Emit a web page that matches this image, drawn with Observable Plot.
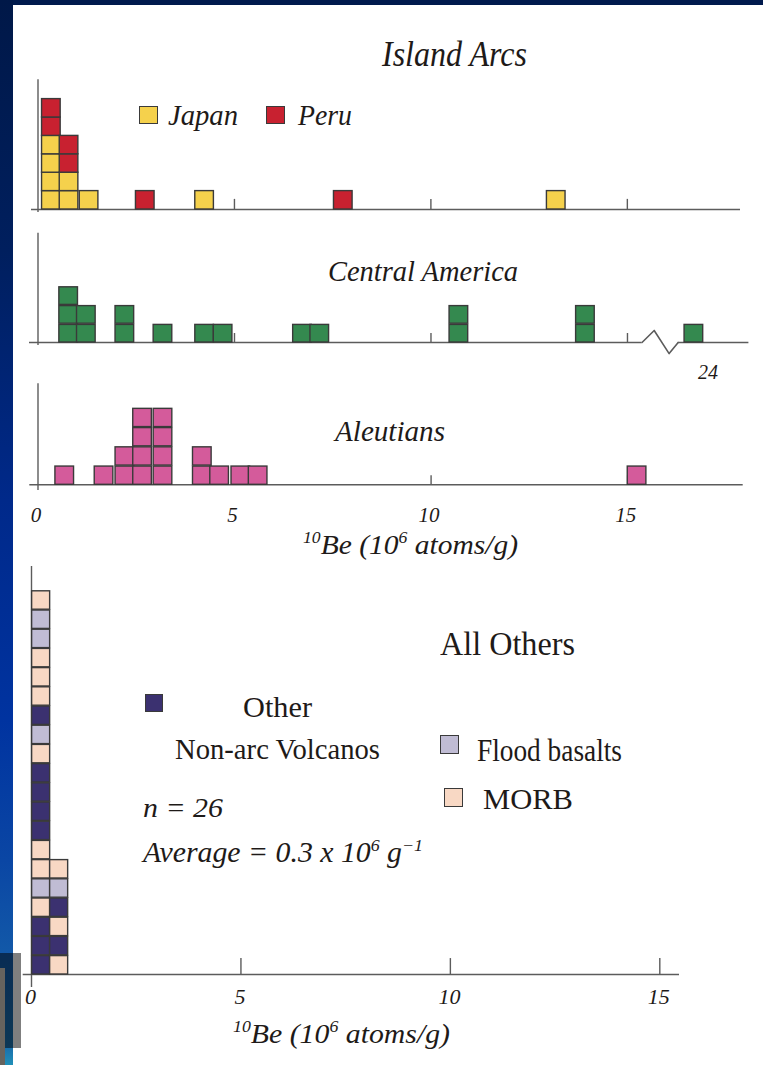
<!DOCTYPE html>
<html><head><meta charset="utf-8">
<script src="https://cdn.jsdelivr.net/npm/d3@7"></script>
<script src="https://cdn.jsdelivr.net/npm/@observablehq/plot@0.6"></script>
<style>
body{margin:0;background:#001a4d;}
#page{position:relative;width:763px;height:1065px;overflow:hidden;background:#001a4d;}
#strip{position:absolute;left:0;top:0;width:13px;height:1065px;
 background:linear-gradient(to bottom,#001848 0px,#001f5e 250px,#00298a 500px,#0033a0 720px,#0a46a4 860px,#1258a8 950px,#1a70ac 1048px,#2090b8 1065px);}
#panel{position:absolute;left:13px;top:5px;width:750px;height:1060px;background:#fff;}
.plotwrap{position:absolute;left:0;}
.lbl{position:absolute;white-space:nowrap;transform-origin:0 0;color:#1e1a18;font-family:'Liberation Serif',serif;line-height:1;}
.lbl .s{font-size:.6em;position:relative;top:-.6em;}
.sw{position:absolute;box-sizing:border-box;border:1.5px solid #3a3a3a;}
</style></head>
<body><div id="page"><div id="strip"></div><div id="panel"></div></div>
<script>
// ---------------- data ----------------
const tickValues = [0, 5, 10, 15];

const islandGroups = ["Japan", "Peru"];
const islandColors = ["#F5D14C", "#C82130"];
const japanBe = [0.34, 0.34, 0.34, 0.34, 0.79, 0.79, 1.30, 4.24, 13.19];
const peruBe = [0.34, 0.34, 0.79, 0.79, 2.73, 7.77];

const centralAmericaColor = "#34894F";
const centralAmericaBe = [0.78, 0.78, 0.78, 1.23, 1.23, 2.21, 2.21, 3.18, 4.24, 4.71, 6.73, 7.17, 10.71, 10.71, 13.93, 13.93, 24];
const centralAmericaOutlierTicks = [24];

const aleutiansColor = "#D45B9B";
const aleutiansBe = [0.68, 1.68, 2.21, 2.21, 2.66, 2.66, 2.66, 2.66, 3.18, 3.18, 3.18, 3.18, 4.18, 4.18, 4.62, 5.16, 5.60, 15.24];

const otherGroups = ["Other", "Flood basalts", "MORB"];
const otherColors = ["#3B3170", "#C0BCD4", "#F8D8C4"];
// stacking order: first column bottom -> top, then second column bottom -> top
const othersBe = [0.23,0.23,0.23,0.23,0.23,0.23,0.23,0.23,0.23,0.23,0.23,0.23,0.23,0.23,0.23,0.23,0.23,0.23,0.23,0.23,
                  0.66,0.66,0.66,0.66,0.66,0.66];
const othersType = ["Other","Other","Other","MORB","Flood basalts","MORB","MORB","Other","Other","Other",
                    "Other","MORB","Flood basalts","Other","MORB","MORB","MORB","Flood basalts","Flood basalts","MORB",
                    "MORB","Other","MORB","Other","Flood basalts","MORB"];

// ---------------- build ----------------
const islandData = [
  ...japanBe.map(be => ({be, group: "Japan"})),
  ...peruBe.map(be => ({be, group: "Peru"}))
];
const caData = centralAmericaBe.map(be => ({be}));
const alData = aleutiansBe.map(be => ({be}));
const othersData = othersBe.map((be, i) => ({be, group: othersType[i]}));

const axisStroke = "#5c5c5c";
const sqStroke = "#3a3a3a";
const page = document.getElementById("page");
const baseStyle = {background: "transparent", fontFamily: "'Liberation Serif', serif", fontStyle: "italic", color: "#1e1a18", overflow: "visible"};

function place(svg, top) {
  const w = document.createElement("div");
  w.className = "plotwrap";
  w.style.top = top + "px";
  w.appendChild(svg);
  page.appendChild(w);
}

const hwTop = 0.237; // half square width in data units (top panels)

// Panel 1: Island Arcs
place(Plot.plot({
  width: 763, height: 220, marginLeft: 37.5, marginRight: 23, marginTop: 80.2, marginBottom: 11,
  x: {domain: [0, 17.88], axis: null},
  y: {domain: [0, 7], axis: null},
  color: {domain: islandGroups, range: islandColors},
  style: baseStyle,
  marks: [
    Plot.ruleY([0], {insetLeft: -6.5, stroke: axisStroke, strokeWidth: 1.6}),
    Plot.ruleX([0], {insetTop: -1, insetBottom: -3, stroke: axisStroke, strokeWidth: 1.4}),
    Plot.ruleX(tickValues.slice(1), {y1: 0, y2: 0.55, stroke: axisStroke, strokeWidth: 1.4}),
    Plot.rectY(islandData, {x1: d => d.be - hwTop, x2: d => d.be + hwTop, y: 1, fill: "group", stroke: sqStroke, strokeWidth: 1.4})
  ]
}), 0);

// Panel 2: Central America (broken axis: values between caCutFrom and caCutTo are cut out)
const caCutFrom = 16.29, caCutTo = 23.6;
const caBreakStart = 15.37;
const caAxisEnd = 25.4;
const caTransform = v => v >= caCutTo ? v - (caCutTo - caCutFrom) : v;
const zig = [
  {x: caBreakStart, y: 0}, {x: caBreakStart + 0.31, y: 0.64},
  {x: caBreakStart + 0.69, y: -0.59}, {x: caCutTo, y: 0}
];
place(Plot.plot({
  width: 763, height: 160, marginLeft: 37.5, marginRight: 14.6, marginTop: 9.2, marginBottom: 38,
  x: {transform: caTransform, domain: [0, caTransform(caAxisEnd)], axis: null},
  y: {domain: [0, 6], axis: null},
  style: baseStyle,
  marks: [
    Plot.ruleY([0], {x1: 0, x2: caBreakStart, insetLeft: -8.5, stroke: axisStroke, strokeWidth: 1.6}),
    Plot.ruleY([0], {x1: caCutTo, x2: caAxisEnd, stroke: axisStroke, strokeWidth: 1.6}),
    Plot.line(zig, {x: "x", y: "y", stroke: axisStroke, strokeWidth: 1.6}),
    Plot.ruleX([0], {insetTop: 3.5, insetBottom: -3, stroke: axisStroke, strokeWidth: 1.4}),
    Plot.ruleX(tickValues.slice(1), {y1: 0, y2: 0.48, stroke: axisStroke, strokeWidth: 1.4}),
    Plot.rectY(caData, {x1: d => d.be - hwTop, x2: d => d.be + hwTop, y: 1, fill: centralAmericaColor, stroke: sqStroke, strokeWidth: 1.4, insetTop: 1.2}),
    Plot.text(centralAmericaOutlierTicks, {x: d => d, text: d => String(d), frameAnchor: "bottom", lineAnchor: "top", dy: 22, dx: 14, fontSize: 20, fill: "#1e1a18"})
  ]
}), 220);

// Panel 3: Aleutians
place(Plot.plot({
  width: 763, height: 200, marginLeft: 37.5, marginRight: 20.3, marginTop: 13.3, marginBottom: 85.7,
  x: {domain: [0, 17.94], axis: null},
  y: {domain: [0, 5.25], axis: null},
  style: baseStyle,
  marks: [
    Plot.ruleY([0], {insetLeft: -8.2, stroke: axisStroke, strokeWidth: 1.6}),
    Plot.ruleX([0], {insetBottom: -5.7, stroke: axisStroke, strokeWidth: 1.4}),
    Plot.ruleX(tickValues.slice(1), {y1: 0, y2: 0.47, stroke: axisStroke, strokeWidth: 1.4}),
    Plot.rectY(alData, {x1: d => d.be - hwTop, x2: d => d.be + hwTop, y: 1, fill: aleutiansColor, stroke: sqStroke, strokeWidth: 1.4, insetTop: 1}),
    Plot.axisX({ticks: tickValues, tickSize: 0, tickPadding: 22, fontSize: 21, dx: -2, label: null})
  ]
}), 370);

// Panel 4: All Others
const hwBottom = 0.215;
place(Plot.plot({
  width: 763, height: 470, marginLeft: 31, marginRight: 84, marginTop: 6, marginBottom: 56,
  x: {domain: [0, 15.47], axis: null},
  y: {domain: [0, 21.25], axis: null},
  color: {domain: otherGroups, range: otherColors},
  style: baseStyle,
  marks: [
    Plot.ruleY([0], {insetLeft: -8.3, stroke: axisStroke, strokeWidth: 1.6}),
    Plot.ruleX([0], {insetBottom: -13, stroke: axisStroke, strokeWidth: 1.4}),
    Plot.ruleX(tickValues.slice(1), {y1: 0, y2: 0.83, stroke: axisStroke, strokeWidth: 1.4}),
    Plot.rectY(othersData, {x1: d => d.be - hwBottom, x2: d => d.be + hwBottom, y: 1, fill: "group", stroke: sqStroke, strokeWidth: 1.4, insetTop: 0.8}),
    Plot.axisX({ticks: tickValues, tickSize: 0, tickPadding: 14, fontSize: 22, dx: -1, label: null})
  ]
}), 560);

// ---------------- text & legends ----------------
function addLabel(html, x1, x2, base, size, italic) {
  const el = document.createElement("div");
  el.className = "lbl";
  el.innerHTML = html;
  el.style.left = x1 + "px";
  el.style.top = (base - 0.8375 * size) + "px";
  el.style.fontSize = size + "px";
  el.style.fontStyle = italic ? "italic" : "normal";
  page.appendChild(el);
  const w = el.getBoundingClientRect().width;
  el.style.transform = `scaleX(${(x2 - x1) / w})`;
}
function swatch(color, x, y, w, h) {
  const el = document.createElement("div");
  el.className = "sw";
  Object.assign(el.style, {left: x + "px", top: y + "px", width: w + "px", height: h + "px", background: color});
  page.appendChild(el);
}
const beTitle = '<span class="s">10</span>Be (10<span class="s">6</span> atoms/g)';

addLabel("Island Arcs", 382, 527, 66, 36, true);
swatch(islandColors[0], 139, 106, 19, 17.5);
addLabel(islandGroups[0], 168, 238, 125, 30, true);
swatch(islandColors[1], 266, 106, 19, 17.5);
addLabel(islandGroups[1], 298, 352, 125, 30, true);
addLabel("Central America", 328, 518, 281, 30, true);
addLabel("Aleutians", 335, 445, 441, 29, true);
addLabel(beTitle, 303, 518, 554, 28, true);

addLabel("All Others", 440, 575, 655, 34, false);
swatch(otherColors[0], 145, 694, 17.5, 18);
addLabel("Other", 243, 312, 717, 30, false);
addLabel("Non-arc Volcanos", 175, 380, 759, 30, false);
swatch(otherColors[1], 440, 735, 19, 19);
addLabel("Flood basalts", 477, 622, 761, 31, false);
swatch(otherColors[2], 443.5, 788, 19, 19);
addLabel("MORB", 483, 573, 809, 29, false);
addLabel("<i>n</i> = 26", 143, 223, 817, 28, true);
addLabel('Average = 0.3 x 10<span class="s">6</span> g<span class="s">−1</span>', 143, 423, 862, 29, true);
addLabel(beTitle, 233, 450, 1043, 28, true);

// slide artefacts at lower left
const g1 = document.createElement("div");
Object.assign(g1.style, {position: "absolute", left: "0px", top: "953px", width: "21px", height: "95px", background: "rgba(0,0,0,0.5)"});
page.appendChild(g1);
const g2 = document.createElement("div");
Object.assign(g2.style, {position: "absolute", left: "0px", top: "968px", width: "5px", height: "97px", background: "#66635e"});
page.appendChild(g2);
</script>
</body></html>
